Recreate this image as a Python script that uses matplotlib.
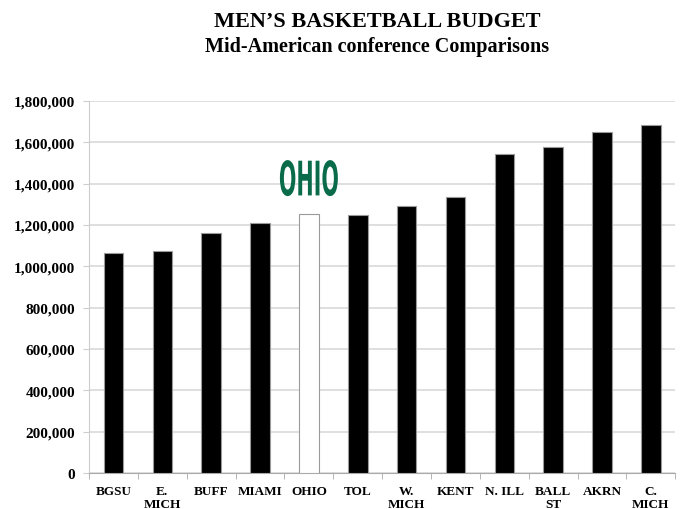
import matplotlib
matplotlib.use("Agg")
import matplotlib.pyplot as plt
from matplotlib.ticker import FuncFormatter
from matplotlib.textpath import TextPath
from matplotlib.patches import PathPatch
from matplotlib.font_manager import FontProperties
from matplotlib.transforms import Affine2D

schools = ["BGSU", "E.\nMICH", "BUFF", "MIAMI", "OHIO", "TOL", "W.\nMICH",
           "KENT", "N. ILL", "BALL\nST", "AKRN", "C.\nMICH"]
budget = [1066000, 1074000, 1160000, 1210000, 1252000, 1250000, 1294000,
          1337000, 1544000, 1577000, 1652000, 1685000]
highlight = "OHIO"
yticks = [0, 200000, 400000, 600000, 800000, 1000000, 1200000, 1400000, 1600000, 1800000]

plt.rcParams['font.family'] = ['Liberation Serif', 'DejaVu Serif']

fig = plt.figure(figsize=(6.81, 5.10), dpi=100)
ax = fig.add_axes([0.1307, 0.0706, 0.861, 0.7294])

x = list(range(len(schools)))
colors = ['white' if s == highlight else 'black' for s in schools]
ax.bar(x, budget, width=0.4, color=colors, edgecolor='#9a9a9a', linewidth=0.8, zorder=3)

ax.set_ylim(0, 1800000)
ax.set_xlim(-0.5, len(schools) - 0.5)
ax.set_yticks(yticks)
ax.yaxis.set_major_formatter(FuncFormatter(lambda v, p: f"{int(v):,}"))
ax.grid(axis='y', color='#d9d9d9', linewidth=1.2, zorder=0)

ax.set_xticks(x)
ax.set_xticklabels(schools, fontweight='bold', fontsize=9.5, linespacing=1.1)
ax.set_xticks([i - 0.5 for i in range(len(schools) + 1)], minor=True)
ax.tick_params(axis='x', which='major', length=0, pad=9)
ax.tick_params(axis='x', which='minor', length=4, color='#aaaaaa', direction='out')
ax.tick_params(axis='y', length=4, color='#cccccc', pad=6)
for lbl in ax.get_yticklabels():
    lbl.set_fontweight('bold')
    lbl.set_fontsize(11)

for s in ['top', 'right']:
    ax.spines[s].set_visible(False)
ax.spines['left'].set_color('#cccccc')
ax.spines['bottom'].set_color('#aaaaaa')

fig.text(0.554, 0.957, "MEN\u2019S BASKETBALL BUDGET", ha='center', va='center',
         fontsize=16, fontweight='bold')
fig.text(0.554, 0.908, "Mid-American conference Comparisons", ha='center', va='center',
         fontsize=14.5, fontweight='bold')

# OHIO logo (condensed green lettering) above the highlighted bar
oi = schools.index(highlight)
tp = TextPath((0, 0), "OHIO", size=40,
              prop=FontProperties(family='DejaVu Sans', weight='bold'))
ext = tp.get_extents()
target_w, target_h = 58, 36  # pixels
cx, cy = ax.transData.transform((oi, 1427000))
tr = (Affine2D().translate(-(ext.x0 + ext.x1) / 2, -(ext.y0 + ext.y1) / 2)
      .scale(target_w / ext.width, target_h / ext.height)
      .translate(cx, cy))
logo = PathPatch(tr.transform_path(tp), facecolor='#0a6b4b', edgecolor='none',
                 transform=None, zorder=5)
fig.add_artist(logo)

fig.savefig("out.png", dpi=100)
